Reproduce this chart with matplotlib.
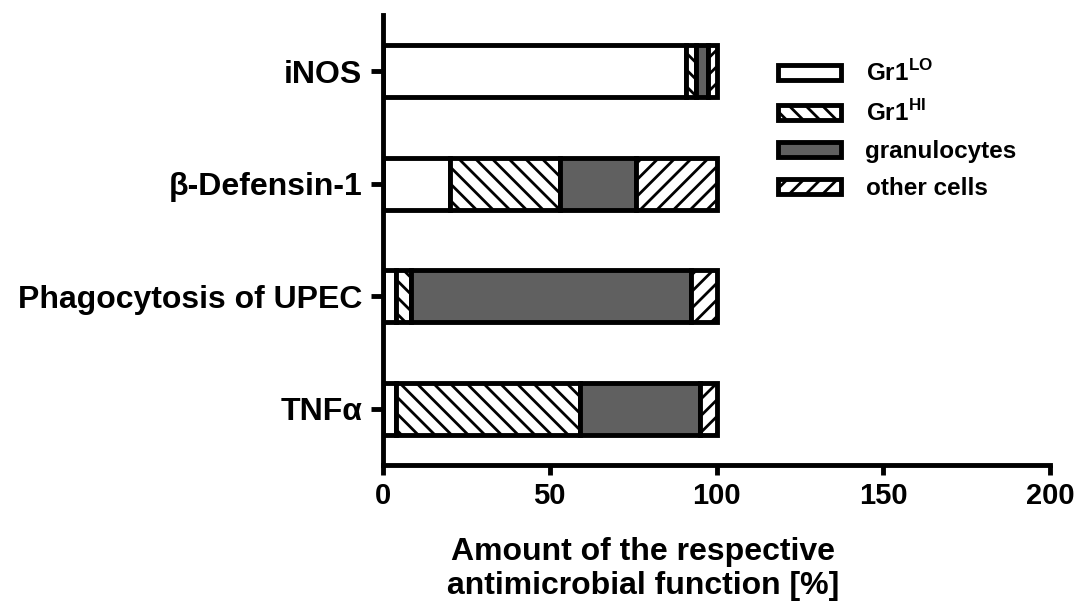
import matplotlib
matplotlib.use("Agg")
import matplotlib.pyplot as plt
import numpy as np

plt.rcParams['font.family'] = ['Liberation Sans', 'DejaVu Sans']
plt.rcParams['font.weight'] = 'bold'
plt.rcParams['mathtext.fontset'] = 'custom'
plt.rcParams['mathtext.rm'] = 'Liberation Sans:bold'
plt.rcParams['mathtext.bf'] = 'Liberation Sans:bold'
plt.rcParams['hatch.linewidth'] = 2.0

categories = ['TNF\u03b1', 'Phagocytosis of UPEC', '\u03b2-Defensin-1', 'iNOS']
series_names = ['Gr1$^{\\mathrm{LO}}$', 'Gr1$^{\\mathrm{HI}}$', 'granulocytes', 'other cells']
gr1_lo = [4, 4, 20, 91]
gr1_hi = [55, 4.5, 33, 3]
granulocytes = [36, 84, 23, 3.5]
other_cells = [5, 7.5, 24, 2.5]
x_ticks = [0, 50, 100, 150, 200]
xlabel_lines = ['Amount of the respective', 'antimicrobial function [%]']

fills = ['white', 'white', '#606060', 'white']
hatches = [None, '\\\\', None, '//']

W, H = 1079, 603
fig = plt.figure(figsize=(W / 100, H / 100), dpi=100)
ax = fig.add_axes([383 / W, 1 - 465 / H, (1050 - 383) / W, (465 - 15) / H])

y = np.arange(len(categories))
left = np.zeros(len(categories))
handles = []
for vals, fc, ht, name in zip([gr1_lo, gr1_hi, granulocytes, other_cells], fills, hatches, series_names):
    bars = ax.barh(y, vals, left=left, height=0.46, color=fc, edgecolor='black',
                   linewidth=3.5, hatch=ht, label=name)
    left += np.array(vals)
    handles.append(bars)

ax.set_xlim(0, 200)
ax.set_ylim(-0.5, 3.5)
ax.set_xticks(x_ticks)
ax.set_yticks(y)
ax.set_yticklabels(categories, fontsize=23, fontweight='bold')
ax.set_xticklabels([str(t) for t in x_ticks], fontsize=21, fontweight='bold')
for s in ['top', 'right']:
    ax.spines[s].set_visible(False)
for s in ['left', 'bottom']:
    ax.spines[s].set_linewidth(3.5)
ax.tick_params(axis='both', width=3.5, direction='out')
ax.tick_params(axis='y', length=9, pad=6)
ax.tick_params(axis='x', length=7, pad=5)

fig.text(643 / W, 1 - 560 / H, xlabel_lines[0], ha='center', va='baseline', fontsize=23, fontweight='bold')
fig.text(643 / W, 1 - 594 / H, xlabel_lines[1], ha='center', va='baseline', fontsize=23, fontweight='bold')

leg = fig.legend(handles=handles, labels=series_names, loc='upper left',
                 bbox_to_anchor=(778 / W, 1 - 60 / H), bbox_transform=fig.transFigure,
                 frameon=False, fontsize=17.5, handlelength=2.6, handleheight=0.55,
                 handletextpad=1.0, labelspacing=0.58, borderpad=0, borderaxespad=0)
for t in leg.get_texts():
    t.set_fontweight('bold')

fig.savefig('out.png', dpi=100)
